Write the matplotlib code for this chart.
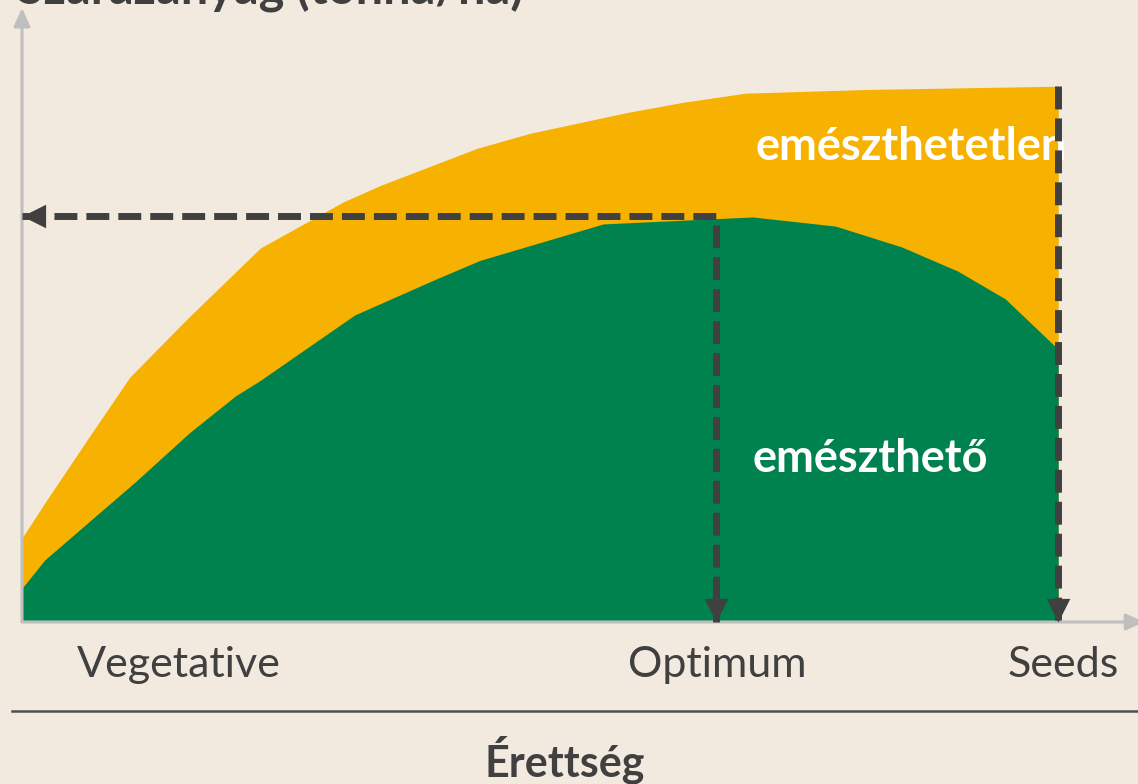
import numpy as np
import matplotlib.pyplot as plt
from matplotlib.lines import Line2D

# Érettség (0 = vegetatív, 100 = mag) és szárazanyag (relatív egység)
x_ossz = [0, 2.4, 6.6, 10.4, 16.0, 23.0, 31.0, 34.6, 43.9, 49.0, 58.4, 63.8, 69.8, 81.6, 100]
y_ossz = [15.7, 22.8, 34.9, 45.7, 56.7, 69.8, 78.4, 81.5, 88.4, 91.2, 95.1, 97.0, 98.7, 99.4, 100]

x_emesztheto = [0, 2.2, 10.9, 16.2, 20.6, 23.0, 32.1, 39.7, 44.2, 56.1, 70.5, 78.5, 84.9, 90.3, 94.9, 100]
y_emesztheto = [6.3, 11.6, 26.1, 35.4, 42.2, 45.1, 57.3, 63.8, 67.5, 74.3, 75.6, 73.9, 70.0, 65.5, 60.3, 50.9]

optimum = (67.0, 75.7)
mag = (100.0, 100.0)

szakaszok = ["Vegetative", "Optimum", "Seeds"]
szakasz_x = [15.1, 67.1, 100.5]

hatter = "#F2EADF"
narancs = "#F7B100"
zold = "#00824E"
sotet = "#404040"
szurke = "#BFBFBF"

plt.rcParams['font.family'] = ['Lato', 'DejaVu Sans']

fig = plt.figure(figsize=(11.38, 7.84), dpi=100, facecolor=hatter)
ax = fig.add_axes([22 / 1138, 162 / 784, 1116 / 1138, 614 / 784])
ax.set_facecolor("none")
ax.set_xlim(0, 107.7)
ax.set_ylim(0, 114.6)
ax.axis("off")

# területek
ax.fill_between(x_ossz, 0, y_ossz, color=narancs, lw=0, zorder=1)
ax.fill_between(x_emesztheto, 0, y_emesztheto, color=zold, lw=0, zorder=2)

# tengelyek nyilakkal
nyil = dict(arrowstyle="-|>,head_length=0.55,head_width=0.25", color=szurke,
            lw=2.2, mutation_scale=20, shrinkA=0, shrinkB=0)
ax.annotate("", xy=(0, 114.6), xytext=(0, 0), arrowprops=nyil, annotation_clip=False, zorder=3)
ax.annotate("", xy=(108.3, 0), xytext=(0, 0), arrowprops=nyil, annotation_clip=False, zorder=3)

# szaggatott nyilak
szagg = dict(color=sotet, lw=5, dashes=(3.3, 1.3), dash_capstyle="butt",
             solid_joinstyle="miter", zorder=5, clip_on=False)
ax.plot([0, optimum[0], optimum[0]], [optimum[1], optimum[1], 0], **szagg)
ax.plot([mag[0], mag[0]], [mag[1], 0], **szagg)

bal = [(0, 0), (1, 0.5), (1, -0.5), (0, 0)]
le = [(0, 0), (-0.5, 1), (0.5, 1), (0, 0)]
ax.plot([0], [optimum[1]], marker=bal, ms=34, color=sotet, mew=0, zorder=6, clip_on=False)
ax.plot([optimum[0], mag[0]], [0, 0], ls="none", marker=le, ms=34, color=sotet, mew=0,
        zorder=6, clip_on=False)

# feliratok
ax.text(70.8, 86.2, "emészthetetlen", color="white", fontsize=32.5, fontweight="bold",
        ha="left", va="baseline", zorder=4)
ax.text(70.5, 28.0, "emészthető", color="white", fontsize=32.5, fontweight="bold",
        ha="left", va="baseline", zorder=4)

for nev, xp in zip(szakaszok, szakasz_x):
    ax.text(xp, -10.3, nev, color=sotet, fontsize=31, ha="center", va="baseline", clip_on=False)

fig.text(17 / 1138, 1 - 3 / 784, "Szárazanyag (tonna/ha)", color=sotet, fontsize=35,
         fontweight="bold", ha="left", va="baseline")
fig.text(565 / 1138, 7 / 784, "Érettség", color=sotet, fontsize=31, fontweight="bold",
         ha="center", va="baseline")
fig.add_artist(Line2D([12 / 1138, 1], [73 / 784, 73 / 784], color="#505050", lw=1.8))

fig.savefig("out.png", dpi=100, facecolor=hatter)
